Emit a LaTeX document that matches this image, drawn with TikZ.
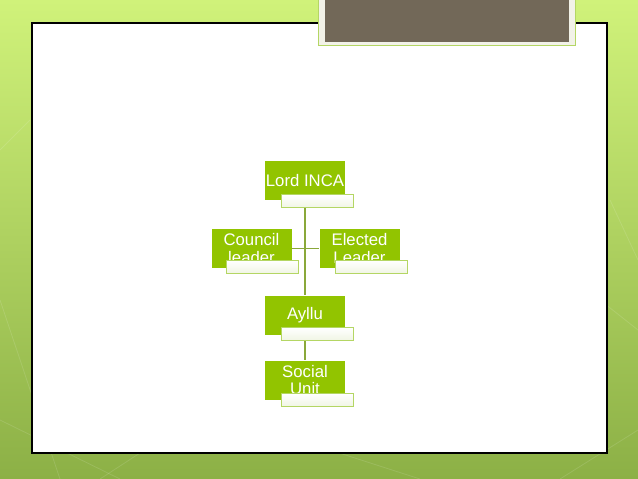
\documentclass[tikz,border=0pt]{standalone}
\usepackage{fontspec}
\setmainfont{Liberation Sans}
\definecolor{bgtop}{RGB}{208,242,122}
\definecolor{bgbot}{RGB}{140,176,70}
\definecolor{boxgreen}{RGB}{146,196,0}
\definecolor{wline}{RGB}{180,214,100}
\definecolor{wfill}{RGB}{240,245,228}
\definecolor{conn}{RGB}{138,168,58}
\definecolor{darkbox}{RGB}{114,104,88}
\definecolor{lightrim}{RGB}{242,242,232}
\tikzset{
  gbox/.style={fill=boxgreen, draw=none, minimum width=80bp, minimum height=39bp,
    inner sep=0pt, text=white, align=center,
    font=\fontsize{16.8}{17.5}\selectfont},
  wbox/.style={draw=wline, line width=1bp, top color=white, bottom color=wfill,
    minimum width=72bp, minimum height=13bp, inner sep=0pt},
  connector/.style={draw=conn, line width=1.5bp}
}
\begin{document}
\begin{tikzpicture}[x=1bp,y=-1bp]
\useasboundingbox (0,0) rectangle (638,479);
% background
\shade[top color=bgtop, bottom color=bgbot] (0,0) rectangle (638,479);
\begin{scope}[draw=white, opacity=0.12, line width=0.8bp]
  \draw (0,300) -- (60,479);
  \draw (0,420) -- (120,479);
  \draw (100,479) -- (160,440);
  \draw (330,450) -- (420,479);
  \draw (560,479) -- (638,430);
  \draw (600,300) -- (638,330);
  \draw (610,200) -- (638,260);
  \draw (0,150) -- (30,120);
\end{scope}
% white panel
\draw[fill=white, draw=black, line width=1.2bp] (32,23) rectangle (607,453);
% top dark title box
\draw[fill=lightrim, draw=wline, line width=1bp] (318,-2) rectangle (575,46);
\fill[darkbox] (325,-2) rectangle (569,42);
% nodes
\node[gbox] (lord) at (305,181) {Lord INCA};
\node[wbox] (lordw) at (317.5,201.5) {};
\node[gbox] (council) at (251.5,248.5) {Council\\leader};
\node[wbox] (councilw) at (262.5,267) {};
\node[gbox] (elected) at (359.5,248.5) {Elected\\Leader};
\node[wbox] (electedw) at (371,267) {};
\node[gbox] (ayllu) at (305,315) {Ayllu};
\node[wbox] (ayllw) at (317,334) {};
\node[gbox] (social) at (305,380) {Social\\Unit};
\node[wbox] (socialw) at (317,400) {};
% connectors
\draw[connector] (lordw.south -| lord) -- (ayllu.north);
\draw[connector] (council.east) -- (elected.west);
\draw[connector] (ayllw.south -| ayllu) -- (social.north);
\end{tikzpicture}
\end{document}
